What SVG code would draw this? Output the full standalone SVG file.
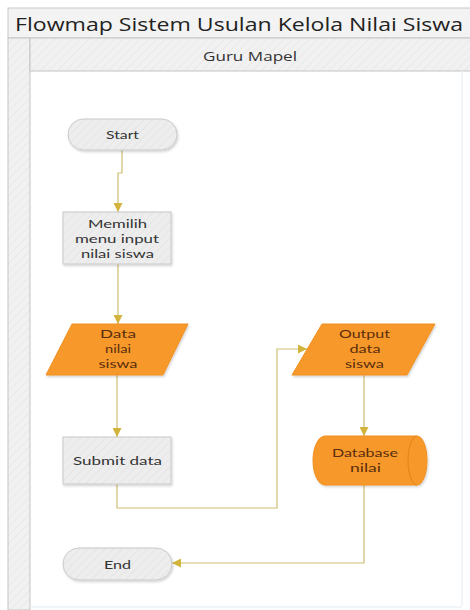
<svg xmlns="http://www.w3.org/2000/svg" width="470" height="610" viewBox="0 0 470 610">
<defs>
<pattern id="hatch" width="6" height="6" patternUnits="userSpaceOnUse" patternTransform="rotate(45)">
<rect width="6" height="6" fill="#F1F1F1"/>
<line x1="0" y1="0" x2="0" y2="6" stroke="#E9E9E9" stroke-width="2"/>
</pattern>
<pattern id="hatchBox" width="6" height="6" patternUnits="userSpaceOnUse" patternTransform="rotate(45)">
<rect width="6" height="6" fill="#EDEDED"/>
<line x1="0" y1="0" x2="0" y2="6" stroke="#E5E5E5" stroke-width="2"/>
</pattern>
<filter id="sh" x="-10%" y="-10%" width="130%" height="130%">
<feDropShadow dx="1" dy="1.5" stdDeviation="1" flood-color="#000" flood-opacity="0.18"/>
</filter>
<marker id="arr" viewBox="0 0 10 10" refX="10" refY="5" markerWidth="9" markerHeight="9" markerUnits="userSpaceOnUse" orient="auto">
<path d="M0,0 L10,5 L0,10 Z" fill="#D2B43C"/>
</marker>
<style>
.t{font-family:Lato,"Open Sans","Noto Sans",sans-serif;font-size:12px;fill:#333;text-anchor:middle;dominant-baseline:central}
.to{font-family:Lato,"Open Sans","Noto Sans",sans-serif;font-size:12px;fill:#5A2E0E;text-anchor:middle;dominant-baseline:central}
.gray{fill:url(#hatchBox);stroke:#C9C9C9;stroke-width:1;filter:url(#sh)}
.org{fill:#F7982A;stroke:#F29020;stroke-width:1;filter:url(#sh)}
.c{fill:none;stroke:#CDBF72;stroke-width:1.2}
</style>
</defs>
<rect width="470" height="610" fill="#FFFFFF"/>
<g id="pool">
<rect x="8" y="8" width="470" height="30" fill="#F3F3F3" stroke="#C8C8C8"/>
<text x="15" y="24" font-family="'Open Sans','Noto Sans',sans-serif" font-size="19" fill="#222" dominant-baseline="central" textLength="448" lengthAdjust="spacingAndGlyphs">Flowmap Sistem Usulan Kelola Nilai Siswa</text>
<rect x="8" y="38" width="22" height="572" fill="url(#hatch)" stroke="#C4C4C4"/>
<rect x="30" y="38" width="445" height="33" fill="url(#hatch)" stroke="#C4C4C4"/>
<text x="250" y="56" font-family="'Open Sans','Noto Sans',sans-serif" font-size="13" fill="#333" text-anchor="middle" dominant-baseline="central" textLength="94" lengthAdjust="spacingAndGlyphs">Guru Mapel</text>
<line x1="462" y1="71" x2="462" y2="606" stroke="#EEF2F5" stroke-width="1.5"/>
<line x1="30" y1="607" x2="462" y2="607" stroke="#EEF2F5" stroke-width="1.5"/>
</g>
<g id="connectors">
<path class="c" d="M122,150 V173 H118 V212" marker-end="url(#arr)"/>
<path class="c" d="M118,264 V324" marker-end="url(#arr)"/>
<path class="c" d="M117,375 V437" marker-end="url(#arr)"/>
<path class="c" d="M117,484 V508 H277 V349 H307" marker-end="url(#arr)"/>
<path class="c" d="M364,375 V436" marker-end="url(#arr)"/>
<path class="c" d="M364,485 V563 H172" marker-end="url(#arr)"/>
</g>
<g id="start">
<rect class="gray" x="68" y="119" width="109" height="31" rx="15.5"/>
<text class="t" x="122.5" y="134" textLength="33" lengthAdjust="spacingAndGlyphs">Start</text>
</g>
<g id="memilih">
<rect class="gray" x="63" y="212" width="108" height="52"/>
<text class="t" x="117.5" y="223" textLength="59" lengthAdjust="spacingAndGlyphs">Memilih</text>
<text class="t" x="117" y="238" textLength="84" lengthAdjust="spacingAndGlyphs">menu input</text>
<text class="t" x="117.5" y="253" textLength="73" lengthAdjust="spacingAndGlyphs">nilai siswa</text>
</g>
<g id="data">
<polygon class="org" points="72,324 188,324 163,375 46,375"/>
<text class="to" x="118" y="333" textLength="36" lengthAdjust="spacingAndGlyphs">Data</text>
<text class="to" x="118" y="348" textLength="26" lengthAdjust="spacingAndGlyphs">nilai</text>
<text class="to" x="118" y="363" textLength="39" lengthAdjust="spacingAndGlyphs">siswa</text>
</g>
<g id="submit">
<rect class="gray" x="63" y="437" width="108" height="47"/>
<text class="t" x="117.5" y="460" textLength="89" lengthAdjust="spacingAndGlyphs">Submit data</text>
</g>
<g id="output">
<polygon class="org" points="322,324 435,324 407,375 292,375"/>
<text class="to" x="364.5" y="333" textLength="51" lengthAdjust="spacingAndGlyphs">Output</text>
<text class="to" x="365" y="348" textLength="31" lengthAdjust="spacingAndGlyphs">data</text>
<text class="to" x="364.5" y="363" textLength="39" lengthAdjust="spacingAndGlyphs">siswa</text>
</g>
<g id="database">
<path class="org" d="M325,436 H417 A10,24.5 0 0 1 417,485 H325 A12,24.5 0 0 1 325,436 Z"/>
<path d="M417,436 A9,24.5 0 0 0 417,485" fill="none" stroke="#E08418" stroke-width="1"/>
<text class="to" x="365" y="452.5" textLength="66" lengthAdjust="spacingAndGlyphs">Database</text>
<text class="to" x="365.5" y="467.5" textLength="31" lengthAdjust="spacingAndGlyphs">nilai</text>
</g>
<g id="end">
<rect class="gray" x="63" y="548" width="109" height="32" rx="16"/>
<text class="t" x="117.5" y="564" textLength="27" lengthAdjust="spacingAndGlyphs">End</text>
</g>
</svg>
